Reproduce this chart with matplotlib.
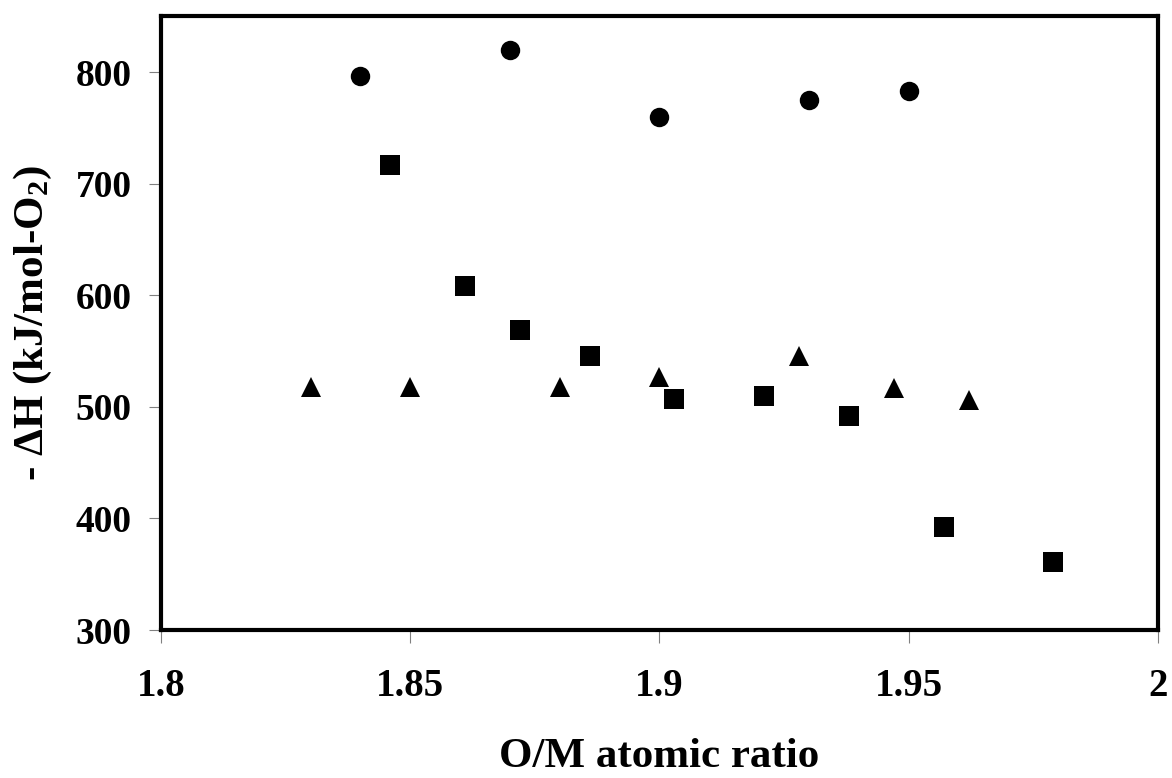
import matplotlib
matplotlib.use('Agg')
import matplotlib.pyplot as plt
import matplotlib.ticker as ticker

plt.rcParams['font.family'] = ['Liberation Serif', 'DejaVu Serif']
plt.rcParams['font.weight'] = 'bold'
plt.rcParams['mathtext.fontset'] = 'custom'
plt.rcParams['mathtext.rm'] = 'Liberation Serif:bold'
plt.rcParams['mathtext.it'] = 'Liberation Serif:bold'
plt.rcParams['mathtext.bf'] = 'Liberation Serif:bold'
plt.rcParams['mathtext.default'] = 'rm'

# series
circle_x = [1.84, 1.87, 1.90, 1.93, 1.95]
circle_y = [797, 820, 760, 775, 783]

square_x = [1.846, 1.861, 1.872, 1.886, 1.903, 1.921, 1.938, 1.957, 1.979]
square_y = [717, 608, 569, 546, 507, 510, 492, 392, 361]

triangle_x = [1.83, 1.85, 1.88, 1.90, 1.928, 1.947, 1.962]
triangle_y = [518, 518, 518, 527, 546, 517, 506]

x_ticks = [1.8, 1.85, 1.9, 1.95, 2.0]
x_tick_labels = ['1.8', '1.85', '1.9', '1.95', '2']
y_ticks = [300, 400, 500, 600, 700, 800]

fig = plt.figure(figsize=(11.72, 7.78), dpi=100)
ax = fig.add_axes([0.1374, 0.1902, 0.8506, 0.7886])

ax.plot(circle_x, circle_y, 'o', color='black', ms=14, mew=0, linestyle='none')
ax.plot(square_x, square_y, 's', color='black', ms=14, mew=0, linestyle='none')
ax.plot(triangle_x, triangle_y, '^', color='black', ms=14, mew=0, linestyle='none')

ax.set_xlim(1.8, 2.0)
ax.set_ylim(300, 850)
ax.xaxis.set_major_locator(ticker.FixedLocator(x_ticks))
ax.xaxis.set_major_formatter(ticker.FixedFormatter(x_tick_labels))
ax.yaxis.set_major_locator(ticker.FixedLocator(y_ticks))

for sp in ax.spines.values():
    sp.set_linewidth(3)
    sp.set_color('black')

ax.tick_params(axis='both', direction='out', length=9, width=0.8, color='#808080',
               labelsize=27)
ax.tick_params(axis='x', labelsize=28, pad=18)
ax.tick_params(axis='y', pad=12)
for lab in ax.get_xticklabels() + ax.get_yticklabels():
    lab.set_fontweight('bold')

ax.set_xlabel('O/M atomic ratio', fontsize=31, fontweight='bold', labelpad=24)
ax.set_ylabel('- ΔH (kJ/mol-O$_2$)', fontsize=31, fontweight='bold', labelpad=16)

fig.savefig('out.png', dpi=100)
